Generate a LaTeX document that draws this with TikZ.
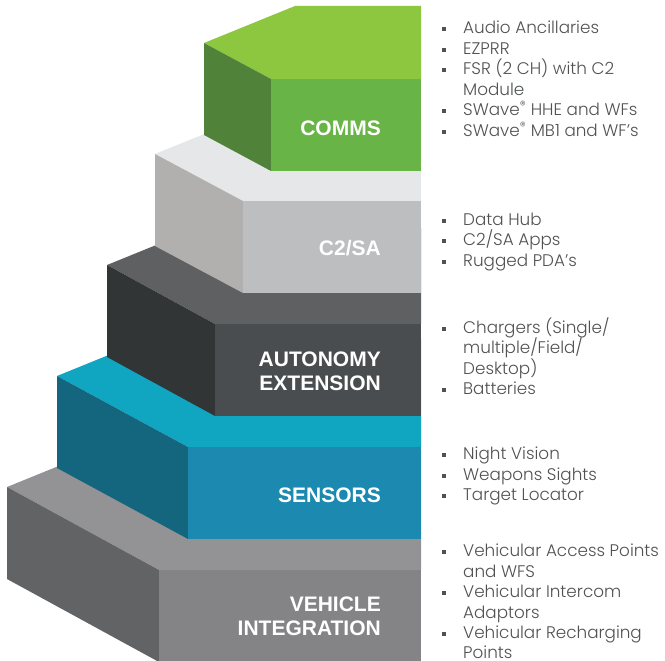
\documentclass[tikz,border=0pt]{standalone}
\usepackage{fontspec}
\setmainfont{Poppins}[UprightFont=* Light]
\newfontfamily\tierfont{Liberation Sans}
\definecolor{commsTop}{RGB}{141,198,63}
\definecolor{commsSide}{RGB}{80,130,58}
\definecolor{commsFront}{RGB}{104,180,70}
\definecolor{csaTop}{RGB}{230,231,232}
\definecolor{csaSide}{RGB}{177,176,174}
\definecolor{csaFront}{RGB}{188,190,192}
\definecolor{autoTop}{RGB}{95,96,98}
\definecolor{autoSide}{RGB}{49,53,54}
\definecolor{autoFront}{RGB}{74,77,79}
\definecolor{sensTop}{RGB}{16,166,194}
\definecolor{sensSide}{RGB}{19,102,125}
\definecolor{sensFront}{RGB}{28,137,177}
\definecolor{vehTop}{RGB}{147,146,148}
\definecolor{vehSide}{RGB}{98,99,101}
\definecolor{vehFront}{RGB}{132,131,133}
\definecolor{itemgray}{RGB}{80,81,83}
\begin{document}
\begin{tikzpicture}[x=1pt, y=-1pt,
    tier/.style={font=\tierfont\bfseries\fontsize{21}{24}\selectfont, text=white,
        align=right, anchor=east, inner sep=0pt},
    item/.style={font=\fontsize{16.8}{20}\selectfont, text=itemgray,
        anchor=base west, inner sep=0pt}]
    \useasboundingbox (0,0) rectangle (665,661);
    % tiers, bottom one first
    \foreach \xl/\yl/\xf/\yf/\col in {7/487/159/570/veh, 57/376/188/447/sens,
        107/265/215/324/auto, 155/154/243/201/csa, 204/43/271/79/comms}
    {
        \fill[\col Top] (\xl,\yl) -- ++(91,-37) -- (421,\yl-37) -- (421,\yf)
            -- (\xf,\yf) -- cycle;
        \fill[\col Side] (\xl,\yl) -- (\xf,\yf) -- (\xf,\yf+92) -- (\xl,\yl+92) -- cycle;
        \fill[\col Front] (\xf,\yf) rectangle (421,\yf+92);
    }
    \node[tier] (comms) at (381,128) {COMMS};
    \node[tier] (csa) at (381,248) {C2/SA};
    \node[tier] (auto) at (381,371) {AUTONOMY\\EXTENSION};
    \node[tier] (sens) at (381,495) {SENSORS};
    \node[tier] (veh) at (381,616) {VEHICLE\\INTEGRATION};
    % bullet lists
    \foreach \yb/\bt/\t in {34/1/Audio Ancillaries, 54.5/1/EZPRR,
        75/1/FSR (2 CH) with C2, 95.5/0/Module,
        116/1/SWave\textsuperscript{®} HHE and WFs,
        136.5/1/SWave\textsuperscript{®} MB1 and WF’s,
        225/1/Data Hub, 245.5/1/{C2/SA Apps}, 266/1/Rugged PDA’s,
        333/1/{Chargers (Single/}, 353.5/0/{multiple/Field/}, 374/0/Desktop),
        394.5/1/Batteries,
        459.5/1/Night Vision, 480/1/Weapons Sights, 500.5/1/Target Locator,
        556.5/1/Vehicular Access Points, 577/0/and WFS,
        597.5/1/Vehicular Intercom, 618/0/Adaptors,
        638.5/1/Vehicular Recharging, 658/0/Points}
    {
        \ifnum\bt=1 \fill[itemgray] (442,\yb-6.5) rectangle ++(4,4); \fi
        \node[item] (i\yb) at (463,\yb) {\t};
    }
\end{tikzpicture}
\end{document}
